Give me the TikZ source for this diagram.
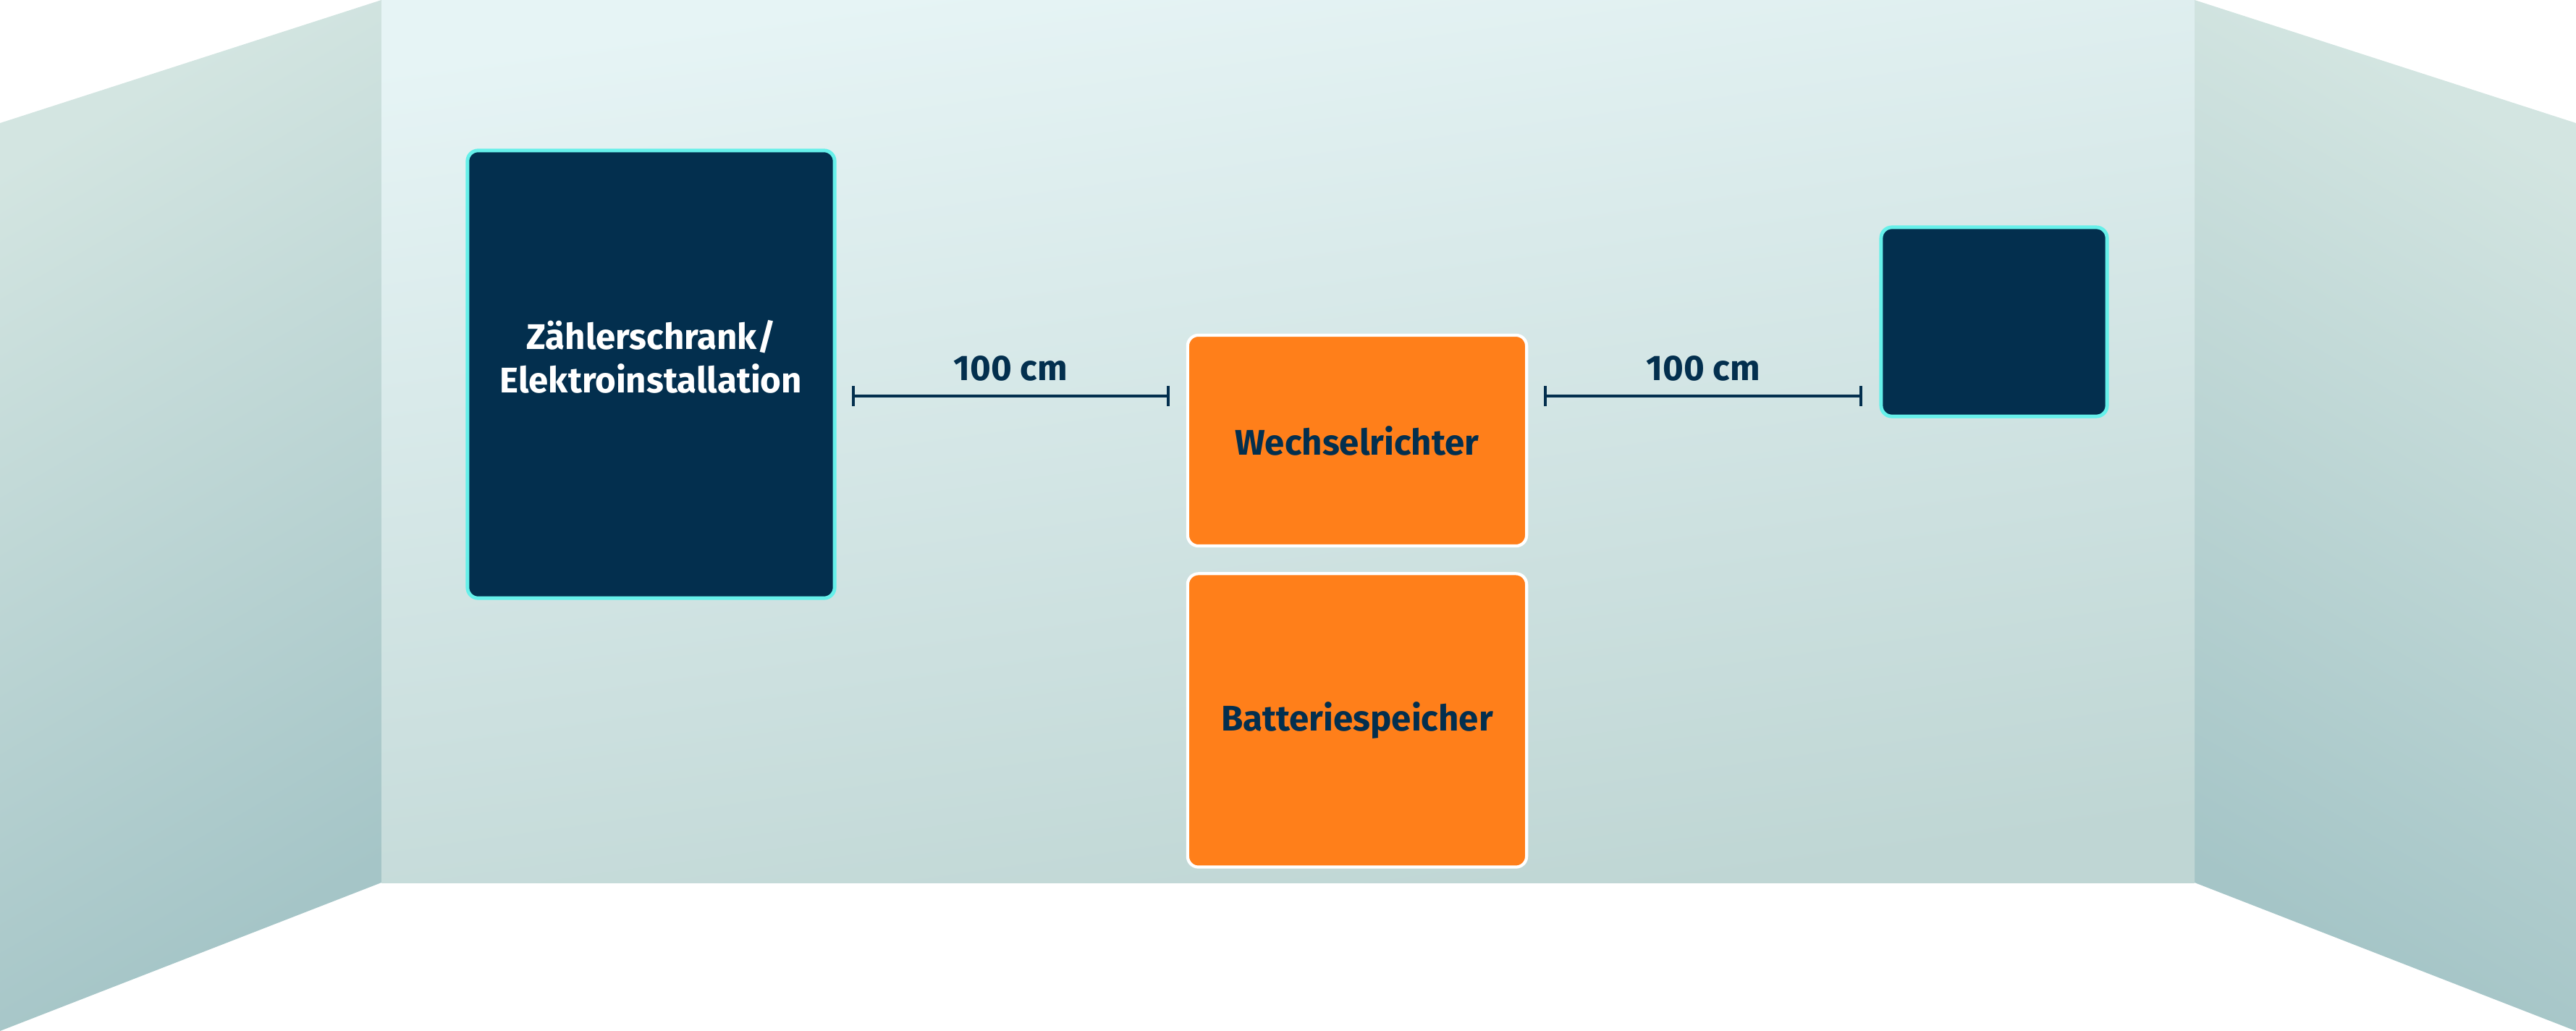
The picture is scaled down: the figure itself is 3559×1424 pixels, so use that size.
\documentclass[tikz,border=0pt]{standalone}
\usepackage{fontspec}
\setmainfont{Fira Sans}
\usepackage{tikz}
\usetikzlibrary{arrows.meta,positioning}
\definecolor{navy}{RGB}{3,47,78}
\definecolor{signal}{RGB}{255,127,26}
\definecolor{glow}{RGB}{102,240,234}
\definecolor{walltop}{RGB}{230,244,245}
\definecolor{wallbottom}{RGB}{191,214,212}
\definecolor{sidelight}{RGB}{211,229,225}
\definecolor{sidedark}{RGB}{165,197,199}

\begin{document}
\begin{tikzpicture}[
  x=0.01cm, y=-0.01cm,
  font=\fontsize{14}{17}\selectfont\bfseries,
  cabinet/.style={draw=glow, line width=1.4pt, rounded corners=4.2pt, fill=navy, text=white, align=center, inner sep=0pt},
  device/.style={draw=white, line width=1.2pt, rounded corners=4.2pt, fill=signal, text=navy, align=center, inner sep=0pt},
  measure/.style={{Bar[width=8pt]}-{Bar[width=8pt]}, line width=1.2pt, draw=navy},
  measurelabel/.style={text=navy, anchor=base, inner sep=0pt}
]
\useasboundingbox (0,0) rectangle (3559,1424);

\shade[top color=sidelight, bottom color=sidedark, shading angle=30] (0,170) -- (527,0) -- (527,1219) -- (0,1424) -- cycle;
\shade[top color=sidelight, bottom color=sidedark, shading angle=-30] (3032,0) -- (3559,170) -- (3559,1424) -- (3032,1219) -- cycle;
\shade[top color=walltop, bottom color=wallbottom, shading angle=8] (527,0) rectangle (3032,1219);

\node[cabinet, minimum width=5.07cm, minimum height=6.18cm,
  label={[text=white, align=center, yshift=0.24cm]center:Zählerschrank/\\Elektroinstallation}] (zs) at (899.5,517) {};
\node[device, minimum width=4.68cm, minimum height=2.91cm] (wr) at (1875,608.5) {Wechselrichter};
\node[device, minimum width=4.68cm, minimum height=4.05cm, below=0.34cm of wr] (bs) {Batteriespeicher};
\node[cabinet, minimum width=3.12cm, minimum height=2.61cm] (sub) at (2755,444.5) {};

\coordinate (m1a) at (1177,547);
\coordinate (m1b) at (1616,547);
\draw[measure] (m1a) -- (m1b);
\node[measurelabel] (m1) at (1396,525) {100 cm};

\coordinate (m2a) at (2133,547);
\coordinate (m2b) at (2573,547);
\draw[measure] (m2a) -- (m2b);
\node[measurelabel] (m2) at (2353,525) {100 cm};
\end{tikzpicture}
\end{document}
